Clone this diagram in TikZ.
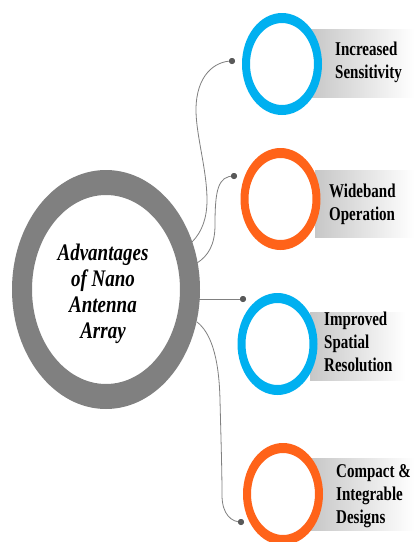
\documentclass[tikz,border=0pt]{standalone}
\usepackage{fontspec}
\setmainfont{Liberation Serif}
\definecolor{ringblue}{HTML}{00B0F0}
\definecolor{ringorange}{HTML}{FF6319}
\definecolor{ringgray}{HTML}{808080}
\definecolor{linegray}{HTML}{808080}
\definecolor{dotgray}{HTML}{595959}
\begin{document}
\begin{tikzpicture}[x=1pt,y=-1pt,
  conn/.style={draw=linegray, line width=0.8pt},
  dotnode/.style={circle, fill=dotgray, inner sep=0pt, minimum size=6pt},
  lbl/.style={anchor=base west, inner sep=0pt, font=\bfseries\fontsize{15}{17.7}\selectfont},
  gradband/.style={left color=black!22, right color=white, draw=none},
]
\useasboundingbox (0,0) rectangle (414,542);
\fill[white] (0,0) rectangle (414,542);

% gradient bands
\shade[gradband] (310,29) rectangle (414,97);
\shade[gradband] (315,170) rectangle (414,237);
\shade[gradband] (310,312) rectangle (405,380);
\shade[gradband] (310,458) rectangle (414,530);

% small rings
\fill[white] (282,64) ellipse [x radius=32, y radius=41];
\fill[ringblue, even odd rule] (282,64) ellipse [x radius=40, y radius=51] (282,64) ellipse [x radius=32, y radius=41];
\fill[white] (280.5,199) ellipse [x radius=32, y radius=41];
\fill[ringorange, even odd rule] (280.5,199) ellipse [x radius=40, y radius=51] (280.5,199) ellipse [x radius=32, y radius=41];
\fill[white] (277.5,344) ellipse [x radius=32, y radius=41];
\fill[ringblue, even odd rule] (277.5,344) ellipse [x radius=40, y radius=51] (277.5,344) ellipse [x radius=32, y radius=41];
\fill[white] (283,494) ellipse [x radius=32, y radius=41];
\fill[ringorange, even odd rule] (283,494) ellipse [x radius=40, y radius=51] (283,494) ellipse [x radius=32, y radius=41];

% main ring
\fill[ringgray, even odd rule] (106,289.5) ellipse [x radius=94, y radius=119.5] (106,289.5) ellipse [x radius=74, y radius=94.5];

% main text
\node[anchor=base, inner sep=0pt] (main) at (103,260)
  {\scalebox{1}[1.25]{\fontsize{19}{20.9}\selectfont\bfseries\itshape
   \begin{tabular}[t]{@{}c@{}}Advantages\\ of Nano\\ Antenna\\ Array\end{tabular}}};

% labels
\node[lbl] (t1) at (335,55) {\scalebox{1}[1.3]{\begin{tabular}[t]{@{}l@{}}Increased\\ Sensitivity\end{tabular}}};
\node[lbl] (t2) at (329,197) {\scalebox{1}[1.3]{\begin{tabular}[t]{@{}l@{}}Wideband\\ Operation\end{tabular}}};
\node[lbl] (t3) at (324,325) {\scalebox{1}[1.3]{\begin{tabular}[t]{@{}l@{}}Improved\\ Spatial\\ Resolution\end{tabular}}};
\node[lbl] (t4) at (336,477) {\scalebox{1}[1.3]{\begin{tabular}[t]{@{}l@{}}Compact \&\\ Integrable\\ Designs\end{tabular}}};

% dots and connector starts
\node[dotnode] (d1) at (232,61) {};
\node[dotnode] (d2) at (234,176) {};
\node[dotnode] (d3) at (243,299) {};
\node[dotnode] (d4) at (241,522) {};
\coordinate (s1) at (192,242);
\coordinate (s2) at (197,263);
\coordinate (s3) at (199,299);
\coordinate (s4) at (197,322);

\draw[conn] (s1) .. controls (202,232) and (207,218) .. (207,200)
  .. controls (207,170) and (196,135) .. (196,110)
  .. controls (196,75) and (215,61) .. (d1.center);
\draw[conn] (s2) .. controls (208,256) and (215,245) .. (215,225)
  .. controls (215,190) and (218,176) .. (d2.center);
\draw[conn] (s3) -- (d3.center);
\draw[conn] (s4) .. controls (210,332) and (219,355) .. (220,400)
  .. controls (221,440) and (222,470) .. (222,495)
  .. controls (222,515) and (232,522) .. (d4.center);
\node[dotnode] at (d1) {};
\node[dotnode] at (d2) {};
\node[dotnode] at (d3) {};
\node[dotnode] at (d4) {};
\end{tikzpicture}
\end{document}
